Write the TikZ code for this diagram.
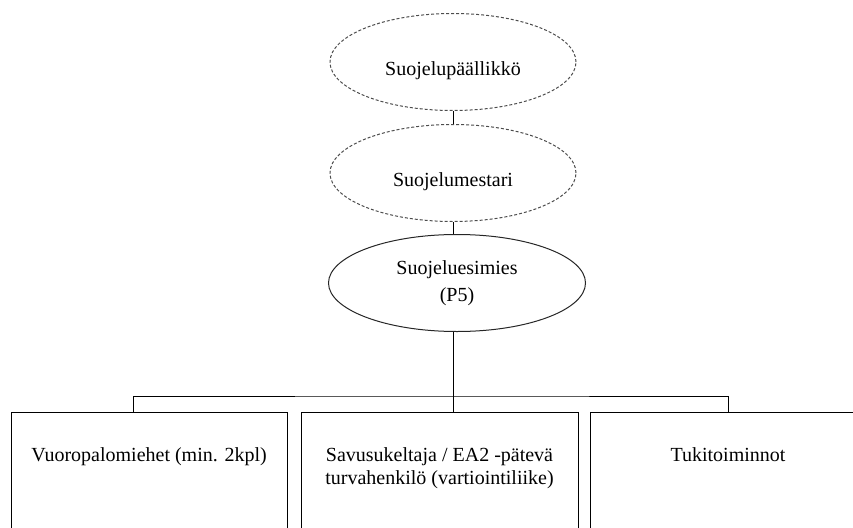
\documentclass[tikz,border=0pt]{standalone}
\usepackage{fontspec}
\setmainfont{Liberation Serif}
\usetikzlibrary{shapes.geometric,positioning}
\tikzset{
	ell/.style={ellipse,draw=black!85,line width=1pt,minimum width=246pt,minimum height=97pt,inner sep=0pt,align=center},dashell/.style={ell,draw=black!70,dash pattern=on 3pt off 2pt,text height=30pt,text depth=4pt},
	box/.style={draw=black,line width=1pt,minimum width=276pt,minimum height=140pt,anchor=north,inner sep=0pt},boxtxt/.style={anchor=north,inner sep=0pt,align=center}
}

\begin{document}
\begin{tikzpicture}[x=1pt,y=-1pt,font=\fontsize{20}{23}\selectfont,line width=1pt]
		\useasboundingbox (0,0) rectangle (853,527);
		\clip (0,0) rectangle (853,527);
		\node[dashell] (chief) at (453,62) {Suojelupäällikkö};
		\node[dashell,below=13pt of chief] (master) {Suojelumestari};
		\node[ell,below=12pt of master,xshift=4pt,minimum width=257pt] (leader) {Suojeluesimies\\[4pt](P5)};
		\node[box] (fire) at (149,412) {};
		\node[box,minimum width=277pt] (smoke) at (439.5,412) {};
		\node[box] (supp) at (728,412) {};
		\node[boxtxt,below=35pt of fire.north] (firetxt) {Vuoropalomiehet (min. 2kpl)};
		\node[boxtxt,below=35pt of smoke.north] (smoketxt) {Savusukeltaja / EA2 -pätevä\\turvahenkilö (vartiointiliike)};
		\node[boxtxt,below=35pt of supp.north] (supptxt) {Tukitoiminnot};
		\coordinate (bus) at (453,396);
		\draw (chief) -- (master);
		\draw (master.south) -- (master.south |- leader.north);
		\draw (master.south |- leader.south) -- (master.south |- smoke.north);
		\draw ([xshift=-16pt]fire.north) |- (bus) -| (supp.north);
		\end{tikzpicture}
\end{document}
